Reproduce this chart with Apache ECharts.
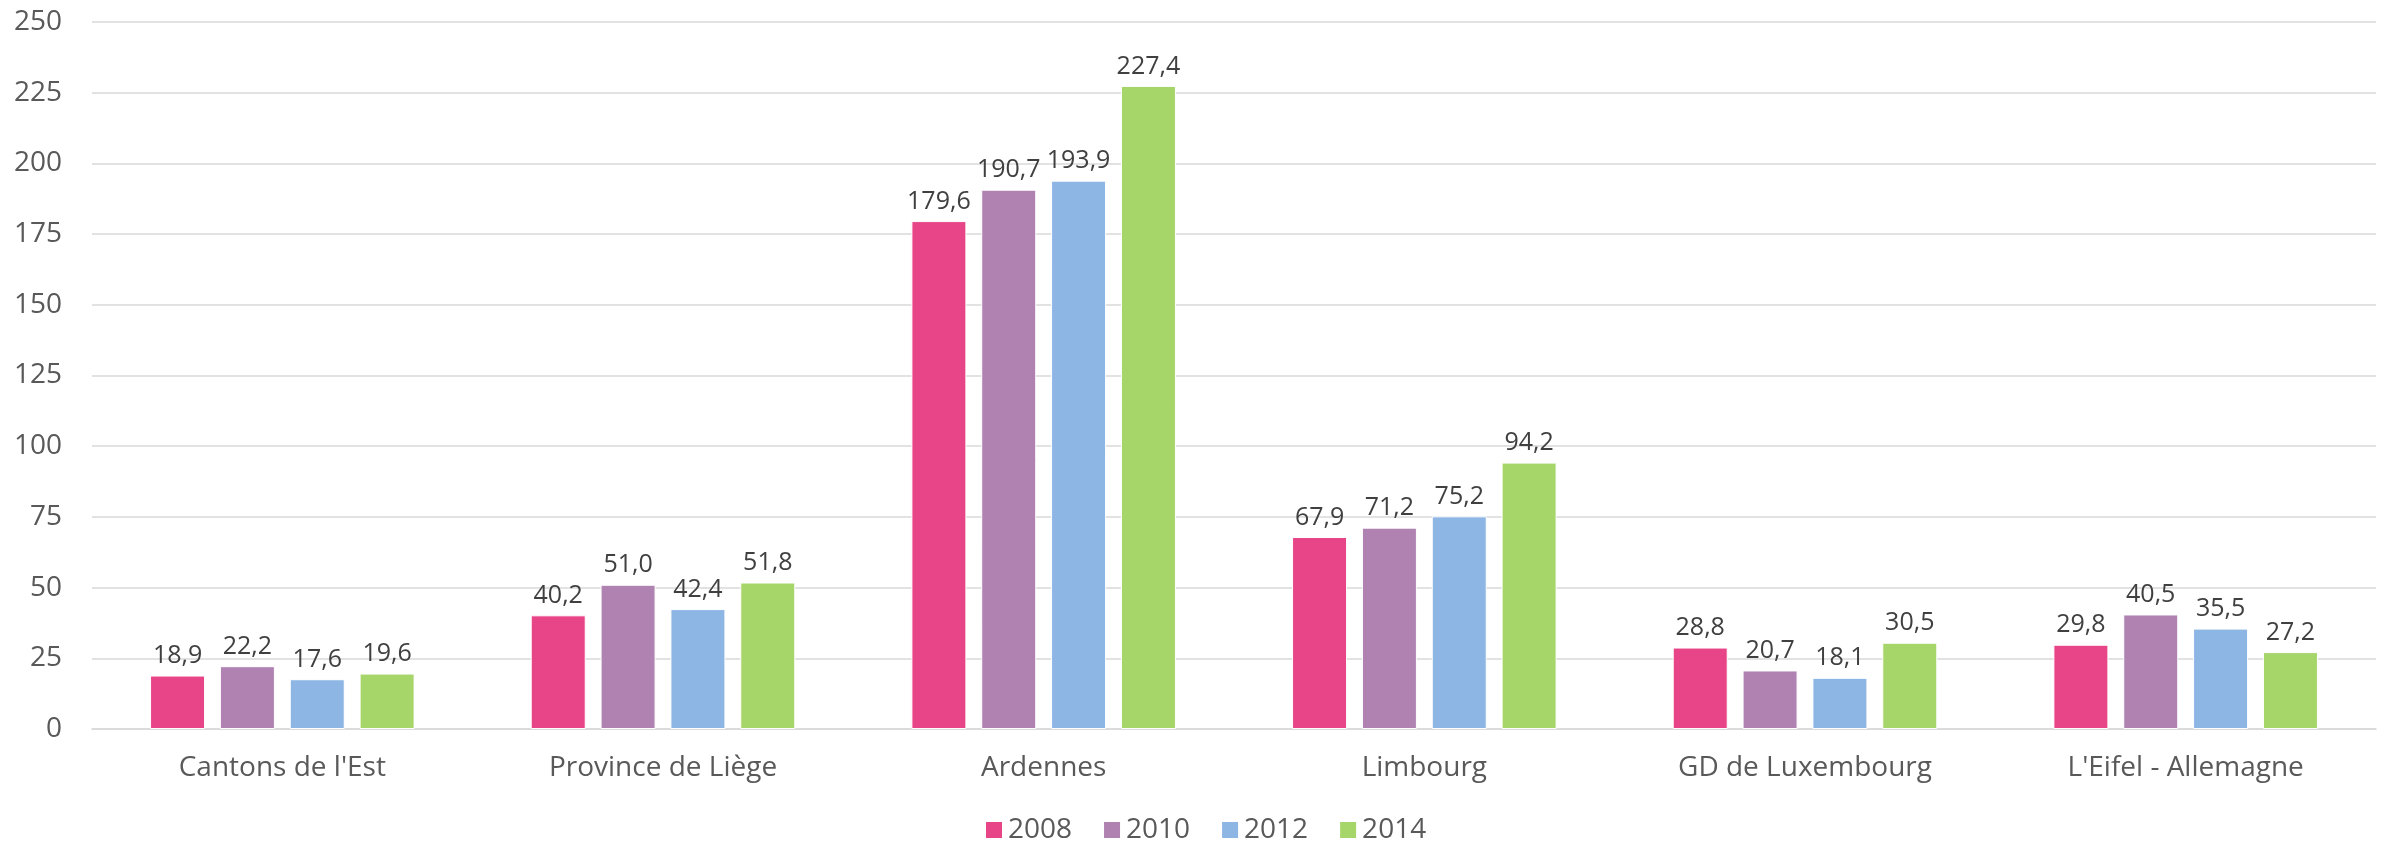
<!DOCTYPE html>
<html>
<head>
<meta charset="utf-8">
<script src="https://cdn.jsdelivr.net/npm/echarts@6/dist/echarts.min.js"></script>
<style>
  html, body { margin: 0; padding: 0; background: #fff; }
  #chart { width: 2387px; height: 847px; }
</style>
</head>
<body>
<div id="chart"></div>
<script>
// regions on the x axis
const regions = ['Cantons de l\'Est', 'Province de Liège', 'Ardennes', 'Limbourg', 'GD de Luxembourg', 'L\'Eifel - Allemagne'];
const years = ['2008', '2010', '2012', '2014'];
const v2008 = [18.9, 40.2, 179.6, 67.9, 28.8, 29.8];
const v2010 = [22.2, 51.0, 190.7, 71.2, 20.7, 40.5];
const v2012 = [17.6, 42.4, 193.9, 75.2, 18.1, 35.5];
const v2014 = [19.6, 51.8, 227.4, 94.2, 30.5, 27.2];
const colors = ['#E84488', '#B082B2', '#8EB6E4', '#A6D66A'];

const font = '"Open Sans", sans-serif';
const chart = echarts.init(document.getElementById('chart'));

function bar(name, data) {
  return {
    name: name,
    type: 'bar',
    data: data,
    barWidth: 55,
    barGap: '27%',
    itemStyle: { borderColor: '#fff', borderWidth: 1 },
    label: {
      show: true,
      position: 'top',
      distance: 7,
      color: '#404040',
      fontFamily: font,
      fontSize: 25,
      formatter: p => p.value.toFixed(1).replace('.', ',')
    }
  };
}

chart.setOption({
  animation: false,
  color: colors,
  textStyle: { fontFamily: font },
  grid: { left: 92, right: 11, top: 22, bottom: 118, containLabel: false },
  legend: {
    data: years,
    left: 984,
    top: 816,
    padding: 0,
    icon: 'rect',
    itemWidth: 18,
    itemHeight: 18,
    itemGap: 30,
    textStyle: { color: '#595959', fontSize: 28, fontFamily: font }
  },
  xAxis: {
    type: 'category',
    data: regions,
    axisLine: { lineStyle: { color: '#d9d9d9', width: 1.5 } },
    axisTick: { show: false },
    axisLabel: { color: '#595959', fontSize: 28, fontFamily: font, margin: 25 }
  },
  yAxis: {
    type: 'value',
    min: 0,
    max: 250,
    interval: 25,
    axisLine: { show: false },
    axisTick: { show: false },
    splitLine: { lineStyle: { color: '#d9d9d9', width: 1.5 } },
    axisLabel: { color: '#595959', fontSize: 28, fontFamily: font, margin: 30 }
  },
  series: [bar(years[0], v2008), bar(years[1], v2010), bar(years[2], v2012), bar(years[3], v2014)]
});
</script>
</body>
</html>
